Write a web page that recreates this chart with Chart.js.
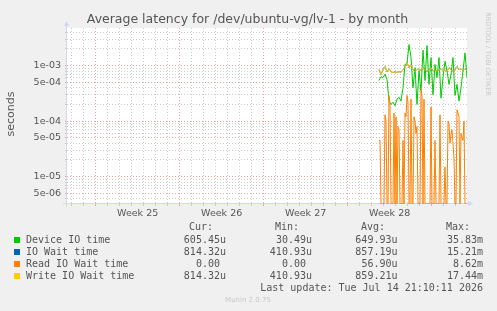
<!DOCTYPE html>
<html>
<head>
<meta charset="utf-8">
<script src="https://cdn.jsdelivr.net/npm/chart.js@4.4.1/dist/chart.umd.min.js"></script>
<style>
  html, body { margin: 0; padding: 0; background: #f0f0f0; }
  #wrap { position: relative; width: 497px; height: 311px; overflow: hidden; }
  #chart { position: absolute; left: 0; top: 0; }
  .txt { position: absolute; white-space: pre; color: #555; font-family: "DejaVu Sans", sans-serif; }
  .mono { font-family: "DejaVu Sans Mono", monospace; font-size: 10px; line-height: 12px; }
  .r { text-align: right; }
  .sq { position: absolute; width: 6px; height: 6px; }
</style>
</head>
<body>
<div id="wrap">
  <canvas id="chart" width="497" height="311"></canvas>
  <div class="txt" id="title" style="left:0;width:495px;top:11px;text-align:center;font-size:12.5px;line-height:16px;">Average latency for /dev/ubuntu-vg/lv-1 - by month</div>
  <div class="txt" style="left:-14px;top:108px;width:50px;text-align:center;font-size:11px;line-height:12px;transform:rotate(-90deg);">seconds</div>
  <div class="txt" style="left:438px;top:50px;width:100px;text-align:center;font-size:6.5px;line-height:8px;color:#c8c8c8;transform:rotate(90deg);">RRDTOOL / TOBI OETIKER</div>
  <div id="legend"></div>
  <div class="txt" style="left:148px;top:295px;width:200px;text-align:center;font-size:7px;line-height:10px;color:#c8c8c8;">Munin 2.0.75</div>
</div>
<script>
// sample times, hours from the left edge of the graph (2 h per pixel)
const sampleHours = Array.from({ length: 45 }, (_, i) => 624 + 4 * i);   // 4 h steps
const readHours = Array.from({ length: 89 }, (_, i) => 624 + 2 * i);     // 2 h steps

// seconds
const deviceIO = [5.4e-4, 6.3e-4, 6.1e-4, 7.0e-4, 5.7e-4, 2.3e-4, 2.0e-4, 2.2e-4, 1.9e-4, 2.5e-4,
  2.7e-4, 2.3e-4, 4.0e-4, 1.05e-3, 1.1e-3, 2.4e-3, 1.4e-3, 4.0e-4, 9.2e-4, 2.0e-4,
  8.1e-4, 3.5e-4, 1.9e-3, 5.4e-4, 2.3e-3, 4.6e-4, 1.4e-3, 3.0e-4, 1.05e-3, 6.1e-4,
  1.4e-3, 2.6e-4, 6.1e-4, 1.2e-3, 8.1e-4, 4.6e-4, 7.0e-4, 1.4e-3, 2.9e-4, 4.6e-4,
  2.3e-4, 4.0e-4, 8.1e-4, 1.7e-3, 6.05e-4];
const ioWait = [8.5e-4, 6.9e-4, 8.5e-4, 9.6e-4, 7.8e-4, 8.8e-4, 7.8e-4, 7.5e-4, 7.8e-4, 7.5e-4,
  7.8e-4, 7.6e-4, 8.5e-4, 9.2e-4, 1.13e-3, 9.2e-4, 1.04e-3, 8.5e-4, 7.8e-4, 8.5e-4,
  8.8e-4, 8.1e-4, 9.2e-4, 8.5e-4, 7.8e-4, 8.5e-4, 9.2e-4, 8.1e-4, 8.5e-4, 7.8e-4,
  8.5e-4, 8.8e-4, 8.1e-4, 8.5e-4, 7.8e-4, 9.2e-4, 8.5e-4, 7.8e-4, 8.5e-4, 9.6e-4,
  8.5e-4, 8.8e-4, 8.1e-4, 8.8e-4, 8.14e-4];
const readIOWait = [4.5e-5, 4.5e-5, 0, 0, 0, 0, 1.3e-4, 1.0e-4, 0, 0,
  2.9e-4, 2.0e-4, 0, 0, 0, 1.4e-4, 0, 1.2e-4, 0, 8e-5,
  7e-5, 0, 0, 0, 4.5e-5, 0, 1.4e-4, 1.2e-4, 2.9e-4, 2.2e-4,
  0, 0, 2.5e-4, 0, 0, 1.2e-4, 1.0e-4, 6e-5, 8e-5, 0,
  0, 0, 3.8e-4, 2.8e-4, 0, 2.5e-4, 0, 0, 0, 0,
  0, 0, 1.8e-4, 0, 0, 0, 4.5e-5, 0, 0, 0,
  0, 1.3e-4, 0, 0, 0, 0, 1.5e-5, 0, 0, 1.0e-4,
  9e-5, 4e-5, 6e-5, 7e-5, 4e-5, 2e-5, 0, 0, 1.6e-4, 1.4e-4,
  1.2e-4, 0, 6e-5, 5e-5, 4.5e-5, 1.0e-4, 0, 0, 0];
const writeIOWait = [8.5e-4, 6.9e-4, 8.5e-4, 9.6e-4, 7.8e-4, 8.8e-4, 7.8e-4, 7.5e-4, 7.8e-4, 7.5e-4,
  7.8e-4, 7.6e-4, 8.5e-4, 9.2e-4, 1.13e-3, 9.2e-4, 1.04e-3, 8.5e-4, 7.8e-4, 8.5e-4,
  8.8e-4, 8.1e-4, 9.2e-4, 8.5e-4, 7.8e-4, 8.5e-4, 9.2e-4, 8.1e-4, 8.5e-4, 7.8e-4,
  8.5e-4, 8.8e-4, 8.1e-4, 8.5e-4, 7.8e-4, 9.2e-4, 8.5e-4, 7.8e-4, 8.5e-4, 9.6e-4,
  8.5e-4, 8.8e-4, 8.1e-4, 8.8e-4, 8.14e-4];

const weekLabels = ['Week 25', 'Week 26', 'Week 27', 'Week 28'];
const weekCentres = [141.33, 309.33, 477.33, 645.33];      // hours
const mondayHours = [57.33, 225.33, 393.33, 561.33, 729.33];
const yLabelled = [1e-3, 5e-4, 1e-4, 5e-5, 1e-5, 5e-6];
const yTickLabels = ['1e-03', '5e-04', '1e-04', '5e-05', '1e-05', '5e-06'];

const seriesNames = ['Device IO time', 'IO Wait time', 'Read IO Wait time', 'Write IO Wait time'];
const seriesColors = ['#00cc00', '#0066b3', '#ff8000', '#ffcc00'];
const curValues = ['605.45u', '814.32u', '0.00 ', '814.32u'];
const minValues = ['30.49u', '410.93u', '0.00 ', '410.93u'];
const avgValues = ['649.93u', '857.19u', '56.90u', '859.21u'];
const maxValues = ['35.83m', '15.21m', '8.62m', '17.44m'];

const Y_MIN = 3.22e-6;
const Y_MAX = 4.77e-3;

// legend (rrdtool style text block)
const legend = document.getElementById('legend');
function addText(text, left, top, right) {
  const d = document.createElement('div');
  d.className = 'txt mono' + (right ? ' r' : '');
  d.textContent = text;
  if (right) { d.style.left = (left - 300) + 'px'; d.style.width = '300px'; }
  else d.style.left = left + 'px';
  d.style.top = top + 'px';
  legend.appendChild(d);
}
addText('Cur:', 213, 221, true);
addText('Min:', 299, 221, true);
addText('Avg:', 385, 221, true);
addText('Max:', 470, 221, true);
seriesNames.forEach((name, i) => {
  const top = 234 + i * 12;
  const sq = document.createElement('div');
  sq.className = 'sq';
  sq.style.left = '14px';
  sq.style.top = (top + 3) + 'px';
  sq.style.background = seriesColors[i];
  legend.appendChild(sq);
  addText(name, 26, top, false);
  addText(curValues[i], 226, top, true);
  addText(minValues[i], 312, top, true);
  addText(avgValues[i], 397.5, top, true);
  addText(maxValues[i], 483, top, true);
});
addText('Last update: Tue Jul 14 21:10:11 2026', 483, 282, true);

// zero can't sit on a log axis: rrdtool pins it to the bottom edge, do the same
const toPoints = (arr, hours) => arr.map((v, i) => ({ x: hours[i], y: v > 0 ? v : Y_MIN }));

const frame = {
  id: 'frame',
  beforeDraw(chart) {
    const { ctx, chartArea: a } = chart;
    ctx.save();
    ctx.fillStyle = '#ffffff';
    ctx.fillRect(a.left, a.top, a.right - a.left, a.bottom - a.top);
    ctx.restore();
  },
  beforeDatasetsDraw(chart) {
    const { ctx, chartArea: a } = chart;
    ctx.save();
    ctx.strokeStyle = '#cfd6f8';
    ctx.fillStyle = '#cfd6f8';
    ctx.lineWidth = 1;
    ctx.beginPath();
    ctx.moveTo(a.left - 0.5, a.bottom + 3);
    ctx.lineTo(a.left - 0.5, a.top - 2);
    ctx.moveTo(a.left - 4, a.bottom - 0.5);
    ctx.lineTo(a.right + 2, a.bottom - 0.5);
    ctx.stroke();
    ctx.beginPath();
    ctx.moveTo(a.left - 3, a.top - 2);
    ctx.lineTo(a.left + 2, a.top - 2);
    ctx.lineTo(a.left - 0.5, a.top - 7);
    ctx.closePath();
    ctx.fill();
    ctx.beginPath();
    ctx.moveTo(a.right + 1, a.bottom - 3);
    ctx.lineTo(a.right + 1, a.bottom + 2);
    ctx.lineTo(a.right + 6, a.bottom - 0.5);
    ctx.closePath();
    ctx.fill();
    ctx.restore();
  }
};

const MINOR = 'rgba(190,190,190,0.8)';
const MAJOR = 'rgba(225,150,150,0.85)';

new Chart(document.getElementById('chart'), {
  type: 'line',
  data: {
    datasets: [
      { data: toPoints(writeIOWait, sampleHours), borderColor: seriesColors[3], order: 0 },
      { data: toPoints(readIOWait, readHours), borderColor: seriesColors[2], order: 1 },
      { data: toPoints(ioWait, sampleHours), borderColor: seriesColors[1], order: 2 },
      { data: toPoints(deviceIO, sampleHours), borderColor: seriesColors[0], order: 3 }
    ]
  },
  options: {
    responsive: false,
    animation: false,
    devicePixelRatio: 1,
    elements: {
      line: { borderWidth: 1, tension: 0 },
      point: { radius: 0 }
    },
    layout: {
      autoPadding: false,
      padding: { left: 0, right: 30, top: 28, bottom: 87 }
    },
    scales: {
      x: {
        type: 'linear',
        min: 0,
        max: 800,
        afterFit: s => { s.height = 20; },
        afterBuildTicks: s => {
          const ticks = [];
          for (let h = 9.33; h <= 800; h += 24) ticks.push({ value: h });
          weekCentres.forEach(v => ticks.push({ value: v }));
          s.ticks = ticks.sort((p, q) => p.value - q.value);
        },
        grid: {
          tickLength: 2,
          color: c => {
            const v = c.tick && c.tick.value;
            if (weekCentres.includes(v)) return 'rgba(0,0,0,0)';
            return mondayHours.some(m => Math.abs(m - v) < 0.1) ? MAJOR : MINOR;
          }
        },
        border: { display: false, dash: [1, 2] },
        ticks: {
          autoSkip: false,
          maxRotation: 0,
          padding: 2,
          color: '#555',
          font: { family: 'DejaVu Sans', size: 9.5 },
          callback: v => {
            const i = weekCentres.indexOf(v);
            return i >= 0 ? weekLabels[i] : '';
          }
        }
      },
      y: {
        type: 'logarithmic',
        min: Y_MIN,
        max: Y_MAX,
        afterFit: s => { s.width = 67; },
        afterBuildTicks: s => {
          const ticks = [];
          for (let e = -6; e <= -3; e++) {
            for (let m = 1; m <= 9; m++) {
              const v = m * Math.pow(10, e);
              if (v >= 3.3e-6 && v <= 4.7e-3) ticks.push({ value: v });
            }
          }
          s.ticks = ticks;
        },
        grid: {
          tickLength: 2,
          color: c => {
            const v = c.tick && c.tick.value;
            return yLabelled.some(l => Math.abs(l - v) / l < 1e-6) ? MAJOR : MINOR;
          }
        },
        border: { display: false, dash: [1, 2] },
        ticks: {
          autoSkip: false,
          padding: 4,
          color: '#555',
          font: { family: 'DejaVu Sans', size: 9.5 },
          callback: v => {
            const i = yLabelled.findIndex(l => Math.abs(l - v) / l < 1e-6);
            return i >= 0 ? yTickLabels[i] : '';
          }
        }
      }
    },
    plugins: {
      legend: { display: false },
      tooltip: { enabled: false },
      title: { display: false }
    }
  },
  plugins: [frame]
});
</script>
</body>
</html>
